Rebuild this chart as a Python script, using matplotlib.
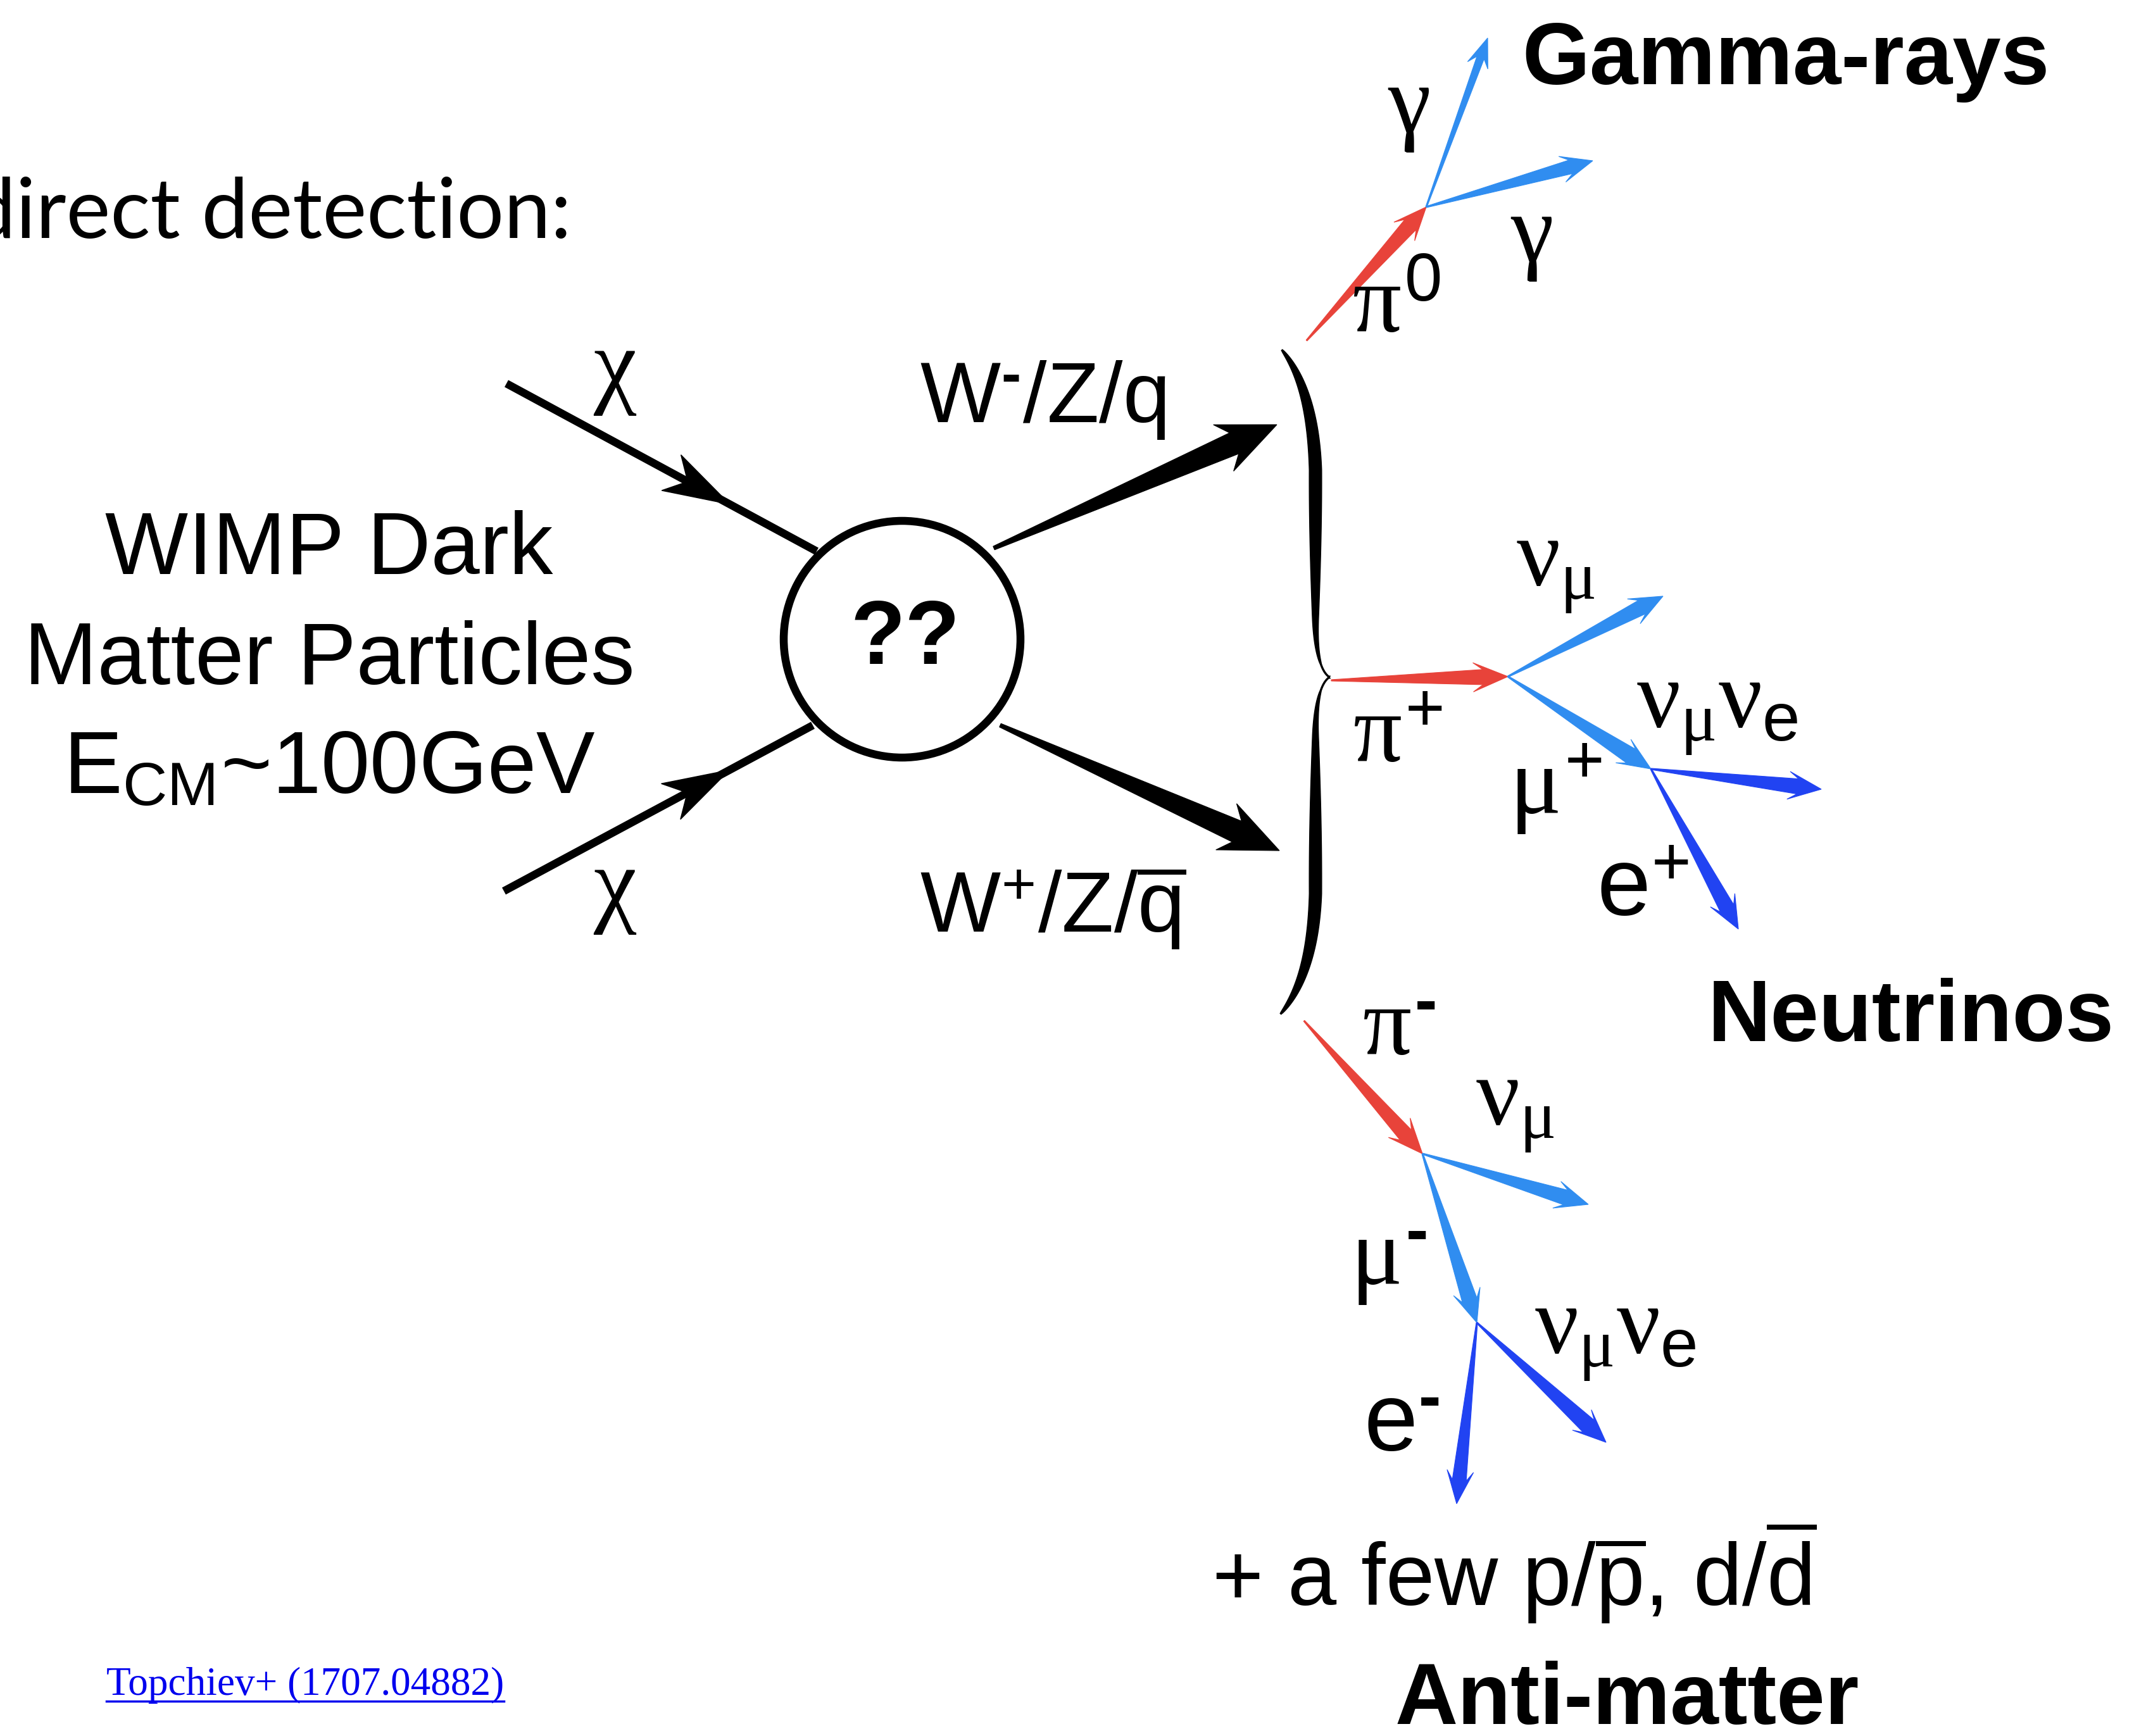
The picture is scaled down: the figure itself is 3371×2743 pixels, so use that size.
import matplotlib
matplotlib.use('Agg')
import matplotlib.pyplot as plt
import numpy as np
from matplotlib.patches import Polygon, Circle

plt.rcParams['mathtext.fontset'] = 'custom'
plt.rcParams['mathtext.rm'] = 'Liberation Sans'
plt.rcParams['mathtext.it'] = 'Liberation Serif'
plt.rcParams['mathtext.bf'] = 'Liberation Sans:bold'
plt.rcParams['font.family'] = ['Liberation Sans', 'DejaVu Sans']

W, H = 3371, 2743

# ---------------- data (positions, in pixels) ----------------
RED = '#e8433a'
LBLUE = '#308df0'
DBLUE = '#2143f2'
MINUS = '\u2010'

# decay arrows: start, end, colour, (tail half-width, shaft half-width, head half-width, head length)
arrow_starts = [(2064, 538), (2253, 327), (2253, 327),
                (2103, 1075), (2382, 1069), (2382, 1069), (2608, 1215), (2608, 1215),
                (2060, 1613), (2247, 1823), (2247, 1823), (2333, 2090), (2333, 2090)]
arrow_ends = [(2253, 327), (2350, 60), (2516, 254),
              (2382, 1069), (2627, 942), (2608, 1215), (2877, 1247), (2746, 1468),
              (2247, 1823), (2509, 1903), (2333, 2090), (2537, 2279), (2301, 2376)]
arrow_colors = [RED, LBLUE, LBLUE,
                RED, LBLUE, LBLUE, DBLUE, DBLUE,
                RED, LBLUE, LBLUE, DBLUE, DBLUE]
arrow_shapes = [(1, 12, 22, 52), (1, 6, 17, 46), (1, 11, 21, 50),
                (1, 12, 23, 55), (1, 12, 22, 52), (1, 13, 22, 52), (1, 12, 22, 52), (1, 12, 22, 52),
                (1, 12, 23, 55), (1, 12, 22, 52), (1, 12, 22, 52), (1, 13, 22, 52), (1, 11, 21, 52)]

# heavy black arrows out of the vertex
boson_starts = [(1570, 866), (1580, 1146)]
boson_ends = [(2017, 671), (2021, 1344)]

# incoming chi lines
chi_starts = [(800, 606), (796, 1408)]
chi_ends = [(1290, 871), (1284, 1146)]
chi_head_frac = [0.72, 0.73]

circle_center = (1425, 1010)
circle_radius = 187

GS = 110  # greek label size
# labels: text, x, y, size, ha, va
labels = [
    (r'$\gamma$', 2225, 172, GS, 'center', 'center'),
    (r'$\gamma$', 2419, 376, GS, 'center', 'center'),
    (r'$\pi^{0}$', 2206, 486, GS, 'center', 'center'),
    (r'$\nu_{\mu}$', 2457, 900, GS, 'center', 'center'),
    (r'$\pi^{+}$', 2208, 1165, GS, 'center', 'center'),
    (r'$\nu_{\mu}\nu_{\mathrm{e}}$', 2713, 1124, GS, 'center', 'center'),
    (r'$\mu^{+}$', 2457, 1247, GS, 'center', 'center'),
    (r'$\mathrm{e}^{+}$', 2595, 1408, GS, 'center', 'center'),
    (r'$\pi^{\mathbf{' + MINUS + r'}}$', 2210, 1628, GS, 'center', 'center'),
    (r'$\nu_{\mu}$', 2393, 1752, GS, 'center', 'center'),
    (r'$\mu^{\mathbf{' + MINUS + r'}}$', 2193, 1995, GS, 'center', 'center'),
    (r'$\nu_{\mu}\nu_{\mathrm{e}}$', 2552, 2113, GS, 'center', 'center'),
    (r'$\mathrm{e}^{\mathbf{' + MINUS + r'}}$', 2214, 2253, GS, 'center', 'center'),
    (r'$\chi$', 972, 588, GS, 'center', 'center'),
    (r'$\chi$', 972, 1408, GS, 'center', 'center'),
    (r'W$^{\mathbf{' + MINUS + r'}}$/Z/q', 1453, 667, 97, 'left', 'baseline'),
    (r'W$^{+}$/Z/$\overline{\mathrm{q}}$', 1453, 1473, 97, 'left', 'baseline'),
    ('WIMP Dark', 520, 907, 100, 'center', 'baseline'),
    ('Matter Particles', 520, 1081, 100, 'center', 'baseline'),
    (r'E$_{\mathrm{CM}}$~100GeV', 520, 1253, 100, 'center', 'baseline'),
    (r'+ a few p/$\overline{\mathrm{p}}$, d/$\overline{\mathrm{d}}$', 1914, 2537, 100, 'left', 'baseline'),
]
bold_labels = [
    ('Gamma-rays', 2404, 133, 99),
    ('Neutrinos', 2698, 1645, 99),
    ('Anti-matter', 2204, 2724, 99),
]
qq_label = ('??', 1430, 1012, 102)
title_text = ('direct detection:', 903, 376, 95)
ref_text = ('Topchiev+ (1707.04882)', 168, 2678, 45.5)

# brace geometry
brace_x = 2078
brace_tip = (2100, 1070)
brace_top = (2025, 553)
brace_bottom = (2023, 1602)

# ---------------- drawing ----------------
fig = plt.figure(figsize=(W / 100, H / 100), dpi=100)
ax = fig.add_axes([0, 0, 1, 1])
ax.set_xlim(0, W)
ax.set_ylim(H, 0)
ax.axis('off')


def tapered(p0, p1, color, tail, shaft, head, hl, notch=0.28):
    p0 = np.array(p0, float)
    p1 = np.array(p1, float)
    d = p1 - p0
    L = np.hypot(*d)
    u = d / L
    n = np.array([-u[1], u[0]])
    base = p1 - u * hl
    join = p1 - u * hl * (1 - notch)
    pts = [p0 + n * tail, join + n * shaft, base + n * head, p1,
           base - n * head, join - n * shaft, p0 - n * tail]
    ax.add_patch(Polygon(pts, closed=True, fc=color, ec=color, lw=0.8, zorder=3))


for p0, p1, c, s in zip(arrow_starts, arrow_ends, arrow_colors, arrow_shapes):
    tapered(p0, p1, c, *s)

for p0, p1 in zip(boson_starts, boson_ends):
    tapered(p0, p1, 'black', 3, 18, 40, 92, notch=0.2)

for p0, p1, f in zip(chi_starts, chi_ends, chi_head_frac):
    p0 = np.array(p0, float)
    p1 = np.array(p1, float)
    ax.plot([p0[0], p1[0]], [p0[1], p1[1]], color='black', lw=9, solid_capstyle='butt', zorder=3)
    d = p1 - p0
    u = d / np.hypot(*d)
    n = np.array([-u[1], u[0]])
    tip = p0 + f * d
    hl, hw = 105, 32
    base = tip - u * hl
    join = tip - u * hl * 0.72
    pts = [tip, base + n * hw, join, base - n * hw]
    ax.add_patch(Polygon(pts, closed=True, fc='black', ec='black', zorder=4))

ax.add_patch(Circle(circle_center, circle_radius, fc='white', ec='black', lw=9, zorder=5))


# brace drawn as a filled, variable-width stroke
def qbez(a, b, c, m=40):
    t = np.linspace(0, 1, m)[:, None]
    a, b, c = (np.array(v, float) for v in (a, b, c))
    return (1 - t) ** 2 * a + 2 * (1 - t) * t * b + t ** 2 * c


def brace_arm(end, tip, bx, sign):
    seg1 = qbez(end, (bx - 4, end[1] + sign * 60), (bx, end[1] + sign * 190))
    seg2 = np.linspace([bx, end[1] + sign * 190], [bx, tip[1] - sign * 95], 40)
    seg3 = qbez((bx, tip[1] - sign * 95), (bx, tip[1] - sign * 15), tip)
    pts = np.vstack([seg1, seg2[1:], seg3[1:]])
    seglen = np.hypot(*np.diff(pts, axis=0).T)
    s = np.concatenate([[0], np.cumsum(seglen)])
    s /= s[-1]
    w = 1.0 + 11.0 * np.sin(np.pi * np.clip(s * 1.05, 0, 1)) ** 0.7 * (1 - 0.45 * s)
    w[-1] = 2.5
    tang = np.gradient(pts, axis=0)
    tang /= np.hypot(*tang.T)[:, None]
    nrm = np.stack([-tang[:, 1], tang[:, 0]], axis=1)
    poly = np.vstack([pts + nrm * w[:, None], (pts - nrm * w[:, None])[::-1]])
    ax.add_patch(Polygon(poly, closed=True, fc='black', ec='black', lw=1, zorder=3))


brace_arm(brace_top, brace_tip, brace_x, 1)
brace_arm(brace_bottom, brace_tip, brace_x, -1)

for txt, x, y, s, ha, va in labels:
    ax.text(x, y, txt, fontsize=s, ha=ha, va=va, color='black', zorder=6)

for txt, x, y, s in bold_labels:
    ax.text(x, y, txt, fontsize=s, ha='left', va='baseline', fontweight='bold', color='black')

ax.text(qq_label[1], qq_label[2], qq_label[0], fontsize=qq_label[3], ha='center', va='center',
        fontweight='bold', color='black', zorder=6)

ax.text(title_text[1], title_text[2], title_text[0], fontsize=title_text[3], ha='right',
        va='baseline', family=['Lato', 'DejaVu Sans'], color='black')

rt = ax.text(ref_text[1], ref_text[2], ref_text[0], fontsize=ref_text[3], ha='left', va='baseline',
             family=['Liberation Serif', 'DejaVu Serif'], color='#0000ee')
fig.canvas.draw()
bb = rt.get_window_extent()
ax.plot([bb.x0, bb.x1], [ref_text[2] + 10, ref_text[2] + 10], color='#0000ee', lw=2.5)

fig.savefig('out.png', dpi=100, facecolor='white')
